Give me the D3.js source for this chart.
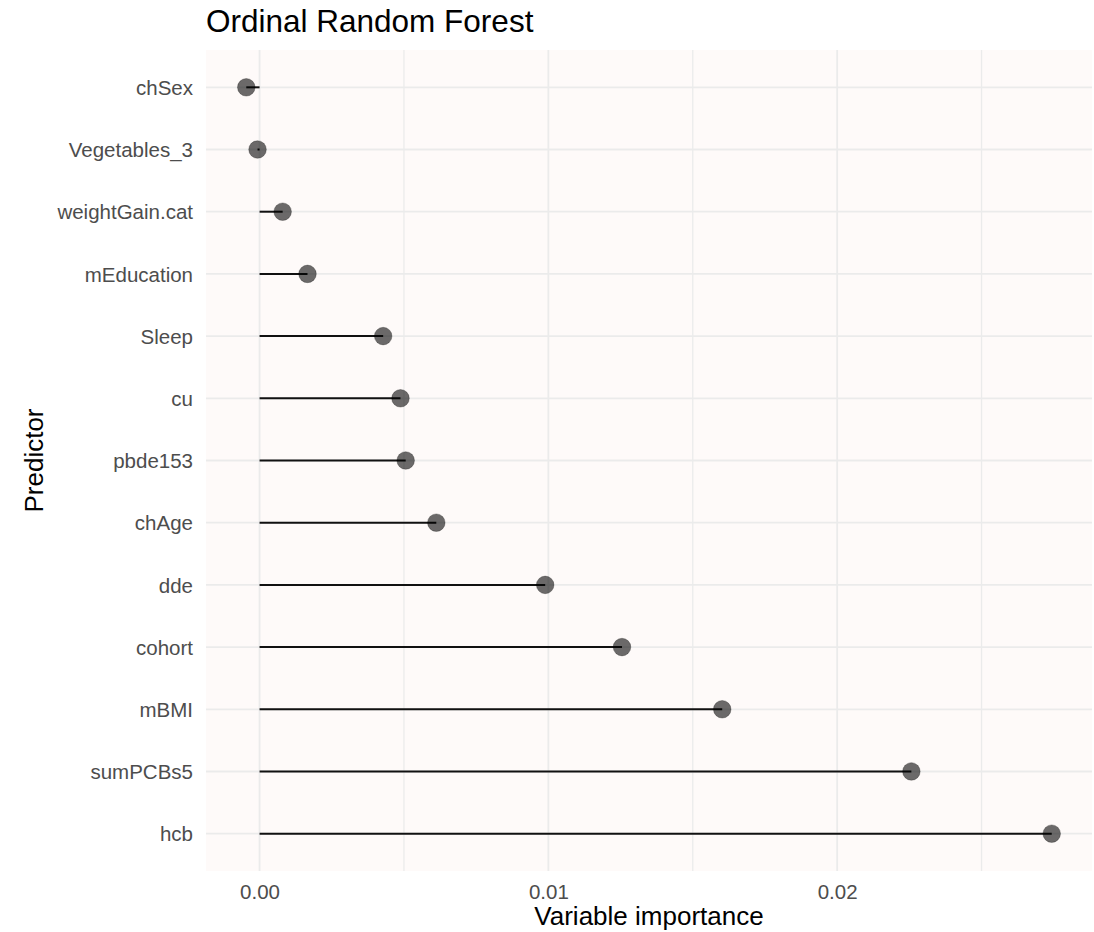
<!DOCTYPE html>
<html>
<head>
<meta charset="utf-8">
<script src="https://cdn.jsdelivr.net/npm/d3@7"></script>
<style>
  html, body { margin: 0; padding: 0; background: #ffffff; }
  svg { display: block; font-family: "Liberation Sans", Arial, Helvetica, sans-serif; }
</style>
</head>
<body>
<svg id="chart" width="1094" height="932"></svg>
<script>
// Predictors, top to bottom
const predictors = ["chSex", "Vegetables_3", "weightGain.cat", "mEducation", "Sleep", "cu",
  "pbde153", "chAge", "dde", "cohort", "mBMI", "sumPCBs5", "hcb"];
// Variable importance per predictor
const importance = [-0.00046, -0.00007, 0.00080, 0.00166, 0.00428, 0.00488,
  0.00506, 0.00612, 0.00989, 0.01255, 0.01602, 0.02257, 0.02743];
// Axis ticks
const majorTicks = [0, 0.01, 0.02];
const majorTickLabels = ["0.00", "0.01", "0.02"];
const minorTicks = [0.005, 0.015, 0.025];

const titleText = "Ordinal Random Forest";
const xTitle = "Variable importance";
const yTitle = "Predictor";

const rows = predictors.map((p, i) => ({ name: p, value: importance[i] }));

const panel = { left: 206, right: 1092, top: 50, bottom: 871 };
const svg = d3.select("#chart");

// x: data extent plus 5% on each side
const [lo, hi] = d3.extent(importance);
const pad = (hi - lo) * 0.05;
const x = d3.scaleLinear().domain([lo - pad, hi + pad]).range([panel.left, panel.right]);
const y = d3.scalePoint().domain(predictors).range([panel.top, panel.bottom]).padding(0.6);

// panel background
svg.append("rect")
  .attr("x", panel.left).attr("y", panel.top)
  .attr("width", panel.right - panel.left).attr("height", panel.bottom - panel.top)
  .attr("fill", "#fefaf9");

const grid = svg.append("g");
grid.selectAll("line.minor").data(minorTicks.filter(t => t >= x.domain()[0] && t <= x.domain()[1]))
  .join("line").attr("class", "minor")
  .attr("x1", d => x(d)).attr("x2", d => x(d))
  .attr("y1", panel.top).attr("y2", panel.bottom)
  .attr("stroke", "#ebebeb").attr("stroke-width", 1.3);
grid.selectAll("line.vmajor").data(majorTicks)
  .join("line").attr("class", "vmajor")
  .attr("x1", d => x(d)).attr("x2", d => x(d))
  .attr("y1", panel.top).attr("y2", panel.bottom)
  .attr("stroke", "#ebebeb").attr("stroke-width", 1.8);
grid.selectAll("line.hmajor").data(predictors)
  .join("line").attr("class", "hmajor")
  .attr("x1", panel.left).attr("x2", panel.right)
  .attr("y1", d => y(d)).attr("y2", d => y(d))
  .attr("stroke", "#ebebeb").attr("stroke-width", 1.8);

// lollipop stems
svg.append("g").selectAll("line").data(rows).join("line")
  .attr("x1", x(0)).attr("x2", d => x(d.value))
  .attr("y1", d => y(d.name)).attr("y2", d => y(d.name))
  .attr("stroke", "#111111").attr("stroke-width", 2);

// lollipop heads
svg.append("g").selectAll("circle").data(rows).join("circle")
  .attr("cx", d => x(d.value)).attr("cy", d => y(d.name))
  .attr("r", 8.8)
  .attr("fill", "#000000").attr("fill-opacity", 0.58)
  .attr("stroke", "#000000").attr("stroke-opacity", 0.25).attr("stroke-width", 1);

// x axis
const xAxis = d3.axisBottom(x).tickValues(majorTicks)
  .tickFormat((d, i) => majorTickLabels[i]).tickSize(0).tickPadding(0);
const gx = svg.append("g").attr("transform", `translate(0,${panel.bottom})`).call(xAxis);
gx.select(".domain").remove();
gx.selectAll("text").attr("fill", "#4d4d4d").attr("font-size", 20.5)
  .attr("dy", null).attr("y", 28);

// y axis
const yAxis = d3.axisLeft(y).tickSize(0).tickPadding(0);
const gy = svg.append("g").attr("transform", `translate(193,0)`).call(yAxis);
gy.select(".domain").remove();
gy.selectAll("text").attr("fill", "#4d4d4d").attr("font-size", 20.5)
  .attr("x", 0).attr("dy", "0.35em");

// titles
svg.append("text").attr("x", 206).attr("y", 32)
  .attr("font-size", 31.5).attr("fill", "#000000").text(titleText);
svg.append("text").attr("x", (panel.left + panel.right) / 2).attr("y", 925)
  .attr("text-anchor", "middle").attr("font-size", 26).attr("fill", "#000000").text(xTitle);
svg.append("text")
  .attr("transform", `translate(43,${(panel.top + panel.bottom) / 2}) rotate(-90)`)
  .attr("text-anchor", "middle").attr("font-size", 26).attr("fill", "#000000").text(yTitle);
</script>
</body>
</html>
